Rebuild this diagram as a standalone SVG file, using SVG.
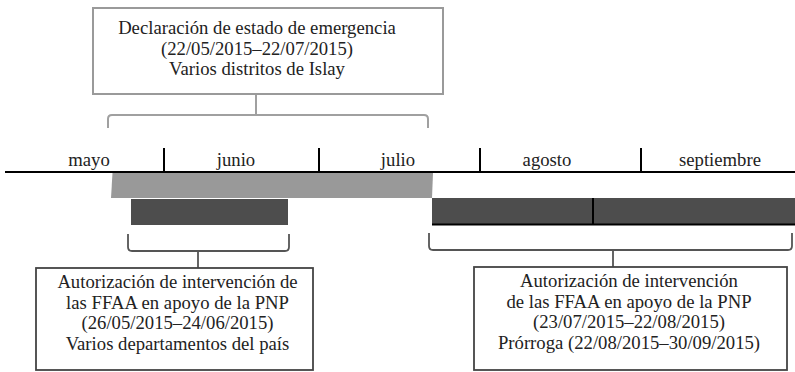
<svg xmlns="http://www.w3.org/2000/svg" width="795" height="372" viewBox="0 0 795 372">
<style>
text{font-family:"Liberation Serif","Times New Roman",serif;font-size:18.7px;fill:#222;text-anchor:middle}
.topbox{fill:#fff;stroke:#9a9a9a;stroke-width:2}
.box{fill:#fff;stroke:#444;stroke-width:1.8}
.brk-top{fill:none;stroke:#a0a0a0;stroke-width:2}
.brk{fill:none;stroke:#555;stroke-width:1.8}
.axis{stroke:#000;stroke-width:1.8}
.tick{stroke:#000;stroke-width:2}
.dark{fill:#4d4d4d}
</style>
<g id="connectors">
<path class="brk-top" d="M256,94 V115 M108,128 V119 Q108,115 112,115 H424 Q428,115 428,119 V128"/>
<path class="brk" d="M198,251 V268 M128,234 V247 Q128,251 132,251 H285 Q289,251 289,247 V234"/>
<path class="brk" d="M613,250 V267 M429,233 V246 Q429,250 433,250 H788 Q792,250 792,246 V233"/>
</g>
<g id="timeline">
<line class="axis" x1="5" y1="172" x2="795" y2="172"/>
<line class="tick" x1="164" y1="148" x2="164" y2="172"/>
<line class="tick" x1="319" y1="148" x2="319" y2="172"/>
<line class="tick" x1="480" y1="148" x2="480" y2="172"/>
<line class="tick" x1="641" y1="148" x2="641" y2="172"/>
<text x="89" y="166">mayo</text>
<text x="236" y="166">junio</text>
<text x="398" y="166">julio</text>
<text x="547" y="166">agosto</text>
<text x="720" y="166">septiembre</text>
</g>
<g id="bars">
<polygon points="112.5,173 433,173 432,198 111,198" fill="#999"/>
<rect class="dark" x="131" y="199" width="157" height="26"/>
<rect class="dark" x="432" y="198" width="363" height="26"/>
<line stroke="#000" stroke-width="2" x1="432" y1="224.5" x2="795" y2="224.5"/>
<line stroke="#000" stroke-width="2" x1="593" y1="198" x2="593" y2="224"/>
</g>
<g id="node-emergencia">
<rect class="topbox" x="93" y="8" width="350" height="86"/>
<text x="257" y="34">Declaración de estado de emergencia</text>
<text x="257" y="54.5">(22/05/2015–22/07/2015)</text>
<text x="257" y="75">Varios distritos de Islay</text>
</g>
<g id="node-ffaa-1">
<rect class="box" x="36" y="268" width="277" height="102"/>
<text x="177.5" y="288">Autorización de intervención de</text>
<text x="177.5" y="308.5">las FFAA en apoyo de la PNP</text>
<text x="177.5" y="329">(26/05/2015–24/06/2015)</text>
<text x="177.5" y="349.5">Varios departamentos del país</text>
</g>
<g id="node-ffaa-2">
<rect class="box" x="474" y="267" width="313" height="103"/>
<text x="629" y="287">Autorización de intervención</text>
<text x="629" y="307.5">de las FFAA en apoyo de la PNP</text>
<text x="629" y="328">(23/07/2015–22/08/2015)</text>
<text x="629" y="348.5">Prórroga (22/08/2015–30/09/2015)</text>
</g>
</svg>
